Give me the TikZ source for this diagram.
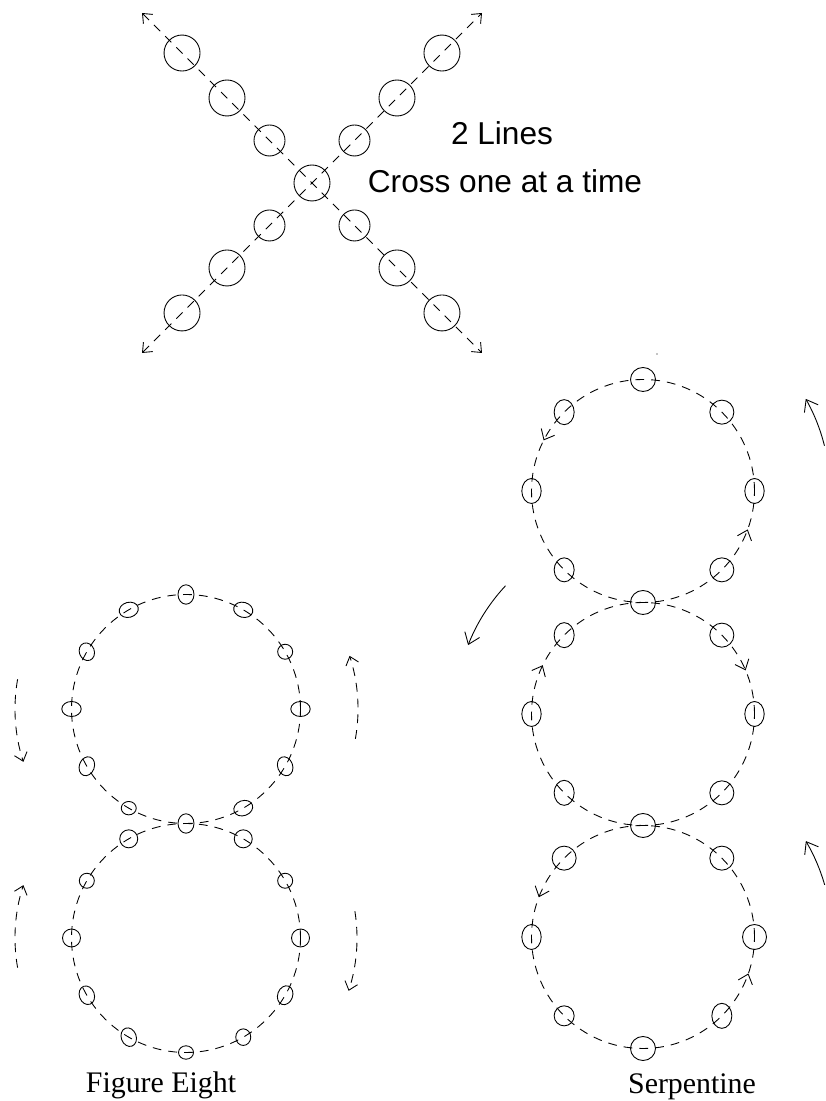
\documentclass[tikz,border=0pt]{standalone}
\usepackage{fontspec}
\setmainfont{Liberation Serif}
\newfontfamily\helvfont{Liberation Sans}
\usetikzlibrary{arrows.meta, decorations.markings}

\begin{document}
\begin{tikzpicture}[x=0.02cm, y=0.02cm, line width=0.5pt,
    >={Straight Barb[length=4.5pt,width=7.5pt]},
    track/.style={dash pattern=on 5pt off 4pt},
    tips/.style={{Straight Barb[length=4.5pt,width=7.5pt]}-{Straight Barb[length=4.5pt,width=7.5pt]}},
    turn/.style={-{Straight Barb[length=6pt,width=9pt]}},
    marks/.style 2 args={postaction={decorate, decoration={markings,
        mark=at position #1 with {\arrow{Straight Barb[length=5pt,width=8.5pt]}},
        mark=at position #2 with {\arrow{Straight Barb[length=5pt,width=8.5pt]}}}}},
    backmarks/.style 2 args={postaction={decorate, decoration={markings,
        mark=at position #1 with {\arrowreversed{Straight Barb[length=5pt,width=8.5pt]}},
        mark=at position #2 with {\arrowreversed{Straight Barb[length=5pt,width=8.5pt]}}}}},
    caption/.style={font=\fontsize{17}{20}\selectfont, anchor=base},
    note/.style={font=\helvfont\fontsize{18}{22}\selectfont, anchor=base}]
  \useasboundingbox (0,0) rectangle (825,1101);

  % 2 lines crossing
  \coordinate (cross) at (312,918);
  \coordinate (nw) at ([shift={(135:240.4)}]cross);
  \coordinate (ne) at ([shift={(45:240.4)}]cross);
  \coordinate (sw) at ([shift={(225:240.4)}]cross);
  \coordinate (se) at ([shift={(315:240.4)}]cross);
  \draw[track, tips] (nw) -- (se);
  \draw[track, tips] (sw) -- (ne);
  \draw (cross) circle (18);
  \foreach \d/\r in {60.1/15.5, 120.2/18, 183.8/18}
    \foreach \s in {45,135,225,315}
      \draw (cross) ++(\s:\d) circle (\r);
  \node[note] (lines) at (502,956) {2 Lines};
  \node[note] (rule) at (505,908) {Cross one at a time};

  % figure eight
  \coordinate (top8) at (186,392);
  \coordinate (low8) at (186,163);
  \draw[track] (top8) circle (114.5);
  \draw[track] (low8) circle (114.5);
  \foreach \a/\rx/\ry/\r in {90/8/9.7/0, 60/9.7/7.5/-15, 30/7.5/7.5/0, 0/9.7/7.5/0,
      -30/7.5/9.7/20, -60/9.7/7.5/20, -90/8/9.7/0, 240/7.5/6.7/0, 210/7.5/9.7/-20,
      180/9.7/7.5/0, 150/7.5/9/20, 120/9.7/7.5/15}
    \draw[shift={(top8)}, shift={(\a:114.5)}, rotate=\r] (0,0) ellipse ({\rx} and {\ry});
  \foreach \a/\rx/\ry/\r in {60/9/9/0, 30/7.5/7.5/0, 0/9/9/0, -30/7.5/9.7/-20,
      -60/7.5/8.3/0, -90/7.5/6.7/0, 240/7.5/9.5/20, 210/7.5/9.5/20, 180/9/9/0,
      150/7.5/7.5/0, 120/9/9/0}
    \draw[shift={(low8)}, shift={(\a:114.5)}, rotate=\r] (0,0) ellipse ({\rx} and {\ry});
  \draw[track, ->] ([shift={(170:171)}]top8) arc (170:198:171);
  \draw[track, ->] ([shift={(-10:172)}]top8) arc (-10:18:172);
  \draw[track, ->] ([shift={(190:171)}]low8) arc (190:162:171);
  \draw[track, ->] ([shift={(9:171)}]low8) arc (9:-18:171);
  \node[caption] (eight) at (161,8.5) {Figure Eight};

  % serpentine
  \coordinate (top3) at (643,610);
  \coordinate (mid3) at (643,387);
  \coordinate (low3) at (643,164);
  \draw[track, marks={0.425}{0.944}] (top3) circle (111.5);
  \draw[track, backmarks={0.064}{0.428}] (mid3) circle (111.5);
  \draw[track, marks={0.442}{0.947}] (low3) circle (111.5);
  \foreach \a/\rx/\ry in {90/12.5/12, 45/12/12, 0/9.7/12.5, -45/12/12, -90/12.5/12,
      225/10/12, 180/9.7/12.5, 135/10/12.5}
    \draw[shift={(top3)}, shift={(\a:111.5)}] (0,0) ellipse ({\rx} and {\ry});
  \foreach \a/\rx/\ry in {45/12/12, 0/9.7/12.5, -45/12/12, -90/12.5/12,
      225/10/12.5, 180/9.7/12.5, 135/10/12.5}
    \draw[shift={(mid3)}, shift={(\a:111.5)}] (0,0) ellipse ({\rx} and {\ry});
  \foreach \a/\rx/\ry in {45/12/12, 0/12/12.5, -45/10/12.5, -90/12.5/12,
      225/10/10, 180/9.7/12.5, 135/12/12}
    \draw[shift={(low3)}, shift={(\a:111.5)}] (0,0) ellipse ({\rx} and {\ry});
  \draw[turn] ([shift={(137:188)}]mid3) arc (137:158.5:188);
  \draw[turn] ([shift={(14:187)}]top3) arc (14:29.5:187);
  \draw[turn] ([shift={(16:189)}]low3) arc (16:30.5:189);
  \fill (657,747) circle (0.7);
  \node[caption] (serp) at (692,8) {Serpentine};
\end{tikzpicture}
\end{document}
